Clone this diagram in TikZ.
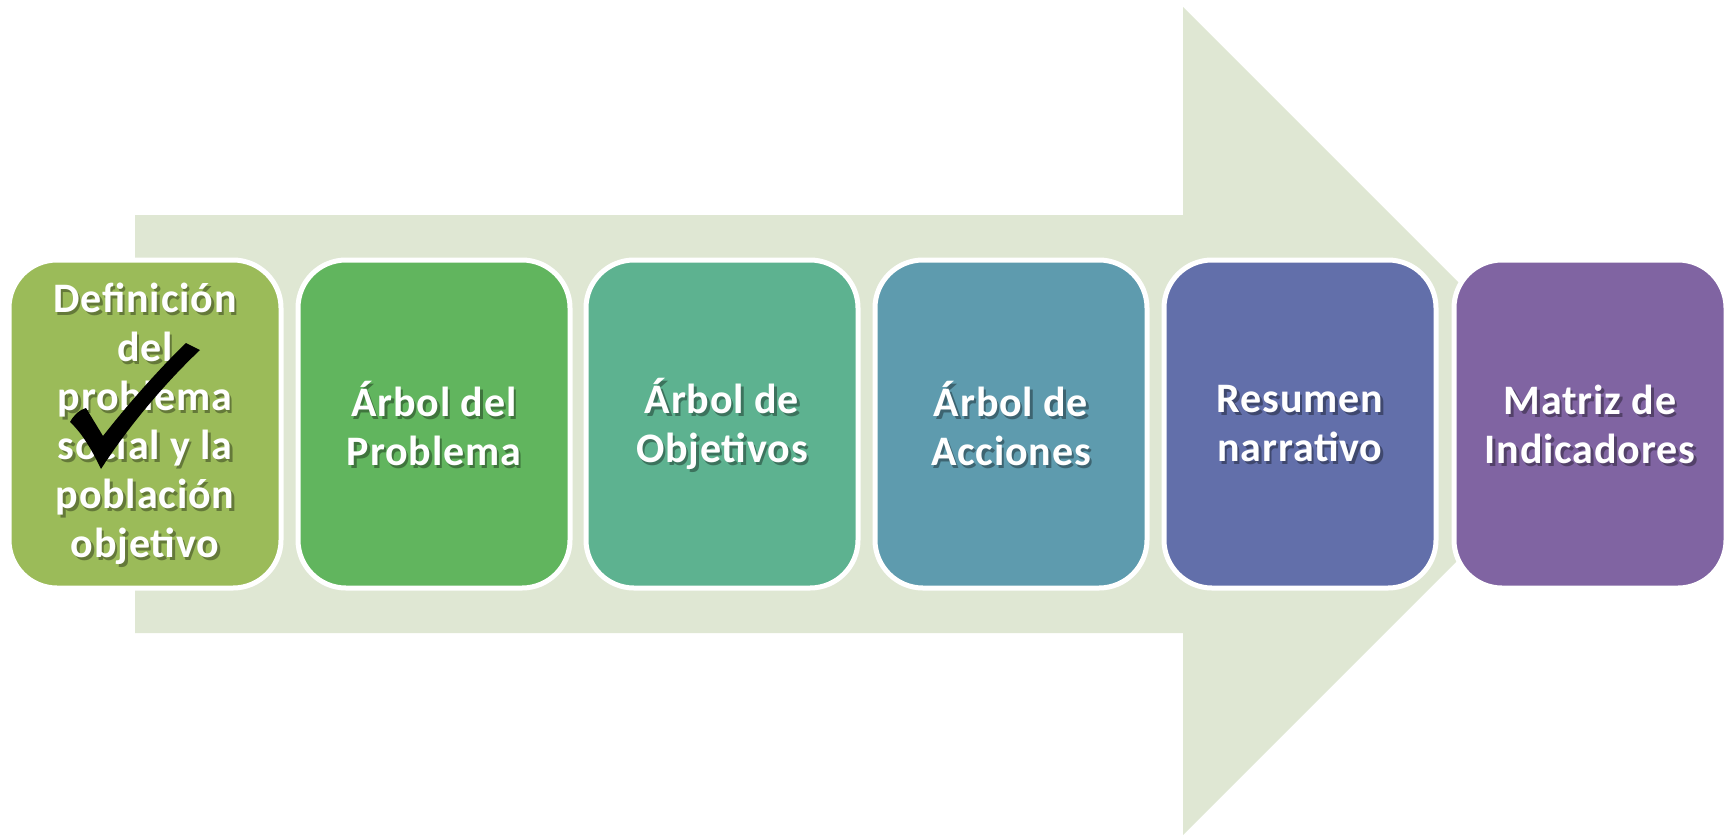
\documentclass[tikz,border=0pt]{standalone}
\usepackage{fontspec}
\setmainfont{Carlito}
\definecolor{arrowbg}{HTML}{DFE7D3}
\definecolor{cA}{HTML}{9BBB59}
\definecolor{cB}{HTML}{61B55E}
\definecolor{cC}{HTML}{5DB290}
\definecolor{cD}{HTML}{5E9BAE}
\definecolor{cE}{HTML}{626FAA}
\definecolor{cF}{HTML}{8064A2}
\tikzset{
  stepbox/.style={draw=white, line width=5pt, rounded corners=48pt,
    minimum width=272pt, minimum height=328pt, inner sep=0pt},
  lbl/.style={text=white, align=center, inner sep=0pt,
    font=\fontsize{42}{49}\selectfont\bfseries\addfontfeatures{LetterSpace=2}},
  lblshadow/.style={lbl, text=black, opacity=0.35}
}
\begin{document}
\begin{tikzpicture}[x=1pt,y=-1pt]
\useasboundingbox (0,0) rectangle (1729,839);
% big background arrow
\fill[arrowbg] (135,215) -- (1183,215) -- (1183,7) -- (1597,421)
  -- (1183,835) -- (1183,633) -- (135,633) -- cycle;
% boxes
\node[stepbox, fill=cA] (b1) at (145,424) {};
\node[stepbox, fill=cB] (b2) at (434,424) {};
\node[stepbox, fill=cC] (b3) at (722,424) {};
\node[stepbox, fill=cD] (b4) at (1011,424) {};
\node[stepbox, fill=cE] (b5) at (1300,424) {};
\node[stepbox, fill=cF] (b6) at (1590,424) {};
% labels (shadow + text)
\foreach \n/\t in {1/{Definición\\del\\problema\\social y la\\población\\objetivo},
                   2/{Árbol del\\Problema},
                   3/{Árbol de\\Objetivos},
                   4/{Árbol de\\Acciones},
                   5/{Resumen\\narrativo},
                   6/{Matriz de\\Indicadores}}{
  \node[lblshadow] (s\n) at ([xshift=2.5pt,yshift=-3pt]b\n.center) {\t};
  \node[lbl] (t\n) at (b\n.center) {\t};
}
% check mark
\fill[black] (70,422) .. controls (74,415) and (79,410) .. (86,408)
  -- (103,436)
  .. controls (125,408) and (155,373) .. (186,343)
  -- (200,350)
  .. controls (162,386) and (126,430) .. (101,469)
  .. controls (92,450) and (82,433) .. (70,422) -- cycle;
\end{tikzpicture}
\end{document}
